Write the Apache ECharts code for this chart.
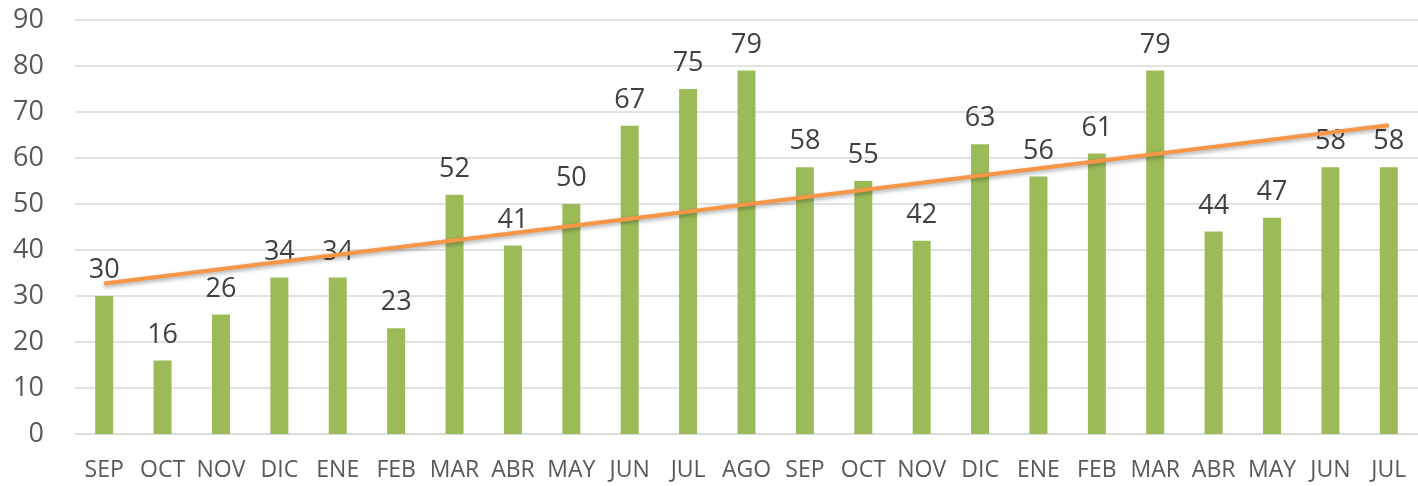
<!DOCTYPE html>
<html>
<head>
<meta charset="utf-8">
<script src="https://cdn.jsdelivr.net/npm/echarts@6/dist/echarts.min.js"></script>
<style>
  html, body { margin: 0; padding: 0; background: #fff; }
  #chart { width: 1418px; height: 486px; }
</style>
</head>
<body>
<div id="chart"></div>
<script>
const months = ['SEP', 'OCT', 'NOV', 'DIC', 'ENE', 'FEB', 'MAR', 'ABR', 'MAY', 'JUN', 'JUL', 'AGO',
                'SEP', 'OCT', 'NOV', 'DIC', 'ENE', 'FEB', 'MAR', 'ABR', 'MAY', 'JUN', 'JUL']
const values = [30, 16, 26, 34, 34, 23, 52, 41, 50, 67, 75, 79, 58, 55, 42, 63, 56, 61, 79, 44, 47, 58, 58]
// trendline ends
const trendStart = 32.7
const trendEnd = 67.1

const trendData = months.map((m, i) => i === 0 ? trendStart : (i === months.length - 1 ? trendEnd : null))

const chart = echarts.init(document.getElementById('chart'))
chart.setOption({
    backgroundColor: '#fff',
    animation: false,
    grid: { left: 75, top: 20, width: 1357, height: 414 },
    xAxis: {
        type: 'category',
        data: months,
        axisLine: { lineStyle: { color: '#d9d9d9', width: 1.5 } },
        axisTick: { show: false },
        axisLabel: {
            interval: 0, margin: 25,
            color: '#595959', fontFamily: 'Open Sans', fontSize: 23
        }
    },
    yAxis: {
        type: 'value',
        min: 0, max: 90, interval: 10,
        axisLine: { show: false },
        axisTick: { show: false },
        axisLabel: { margin: 31, color: '#595959', fontFamily: 'Open Sans', fontSize: 27 },
        splitLine: { lineStyle: { color: '#d9d9d9', width: 1.5 } }
    },
    series: [
        {
            type: 'bar',
            data: values,
            barWidth: 18,
            z: 2,
            itemStyle: { color: '#9bbb59' },
            label: {
                show: true, position: 'top', distance: 12,
                color: '#404040', fontFamily: 'Open Sans', fontSize: 27
            }
        },
        {
            type: 'line',
            data: trendData,
            connectNulls: true,
            symbol: 'none',
            z: 5,
            lineStyle: {
                color: '#f79646', width: 4,
                shadowColor: 'rgba(0,0,0,0.35)', shadowBlur: 4, shadowOffsetY: 2
            }
        }
    ]
})
</script>
</body>
</html>
